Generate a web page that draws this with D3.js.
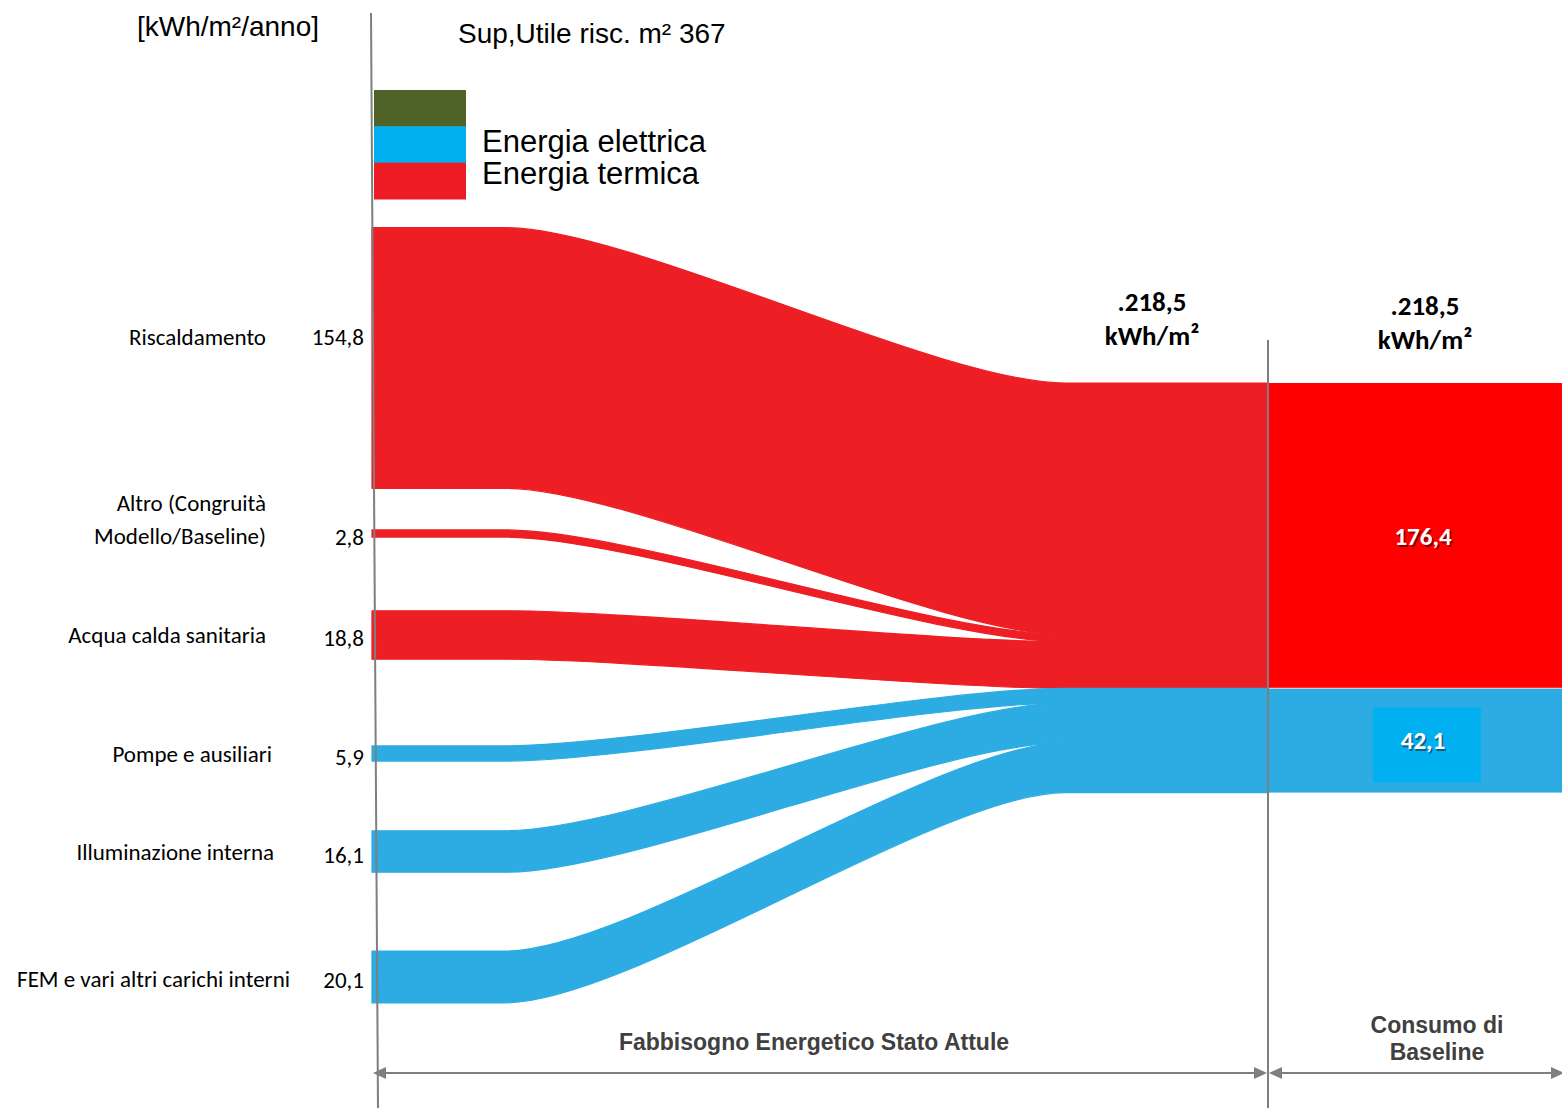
<!DOCTYPE html>
<html><head><meta charset="utf-8">
<script src="https://cdn.jsdelivr.net/npm/d3@7"></script>
<style>body{margin:0;background:#fff} svg{display:block}</style>
</head><body>
<svg id="c" width="1562" height="1108"></svg>
<script>
// ---------------- data ----------------
const categories = ["Riscaldamento", "Altro (Congruità Modello/Baseline)", "Acqua calda sanitaria",
                    "Pompe e ausiliari", "Illuminazione interna", "FEM e vari altri carichi interni"];
const labelLines = [["Riscaldamento"], ["Altro (Congruità", "Modello/Baseline)"], ["Acqua calda sanitaria"],
                    ["Pompe e ausiliari"], ["Illuminazione interna"], ["FEM e vari altri carichi interni"]];
const values = [154.8, 2.8, 18.8, 5.9, 16.1, 20.1];
const energyType = ["termica", "termica", "termica", "elettrica", "elettrica", "elettrica"];
const groups = ["termica", "elettrica"];
const legendKeys = ["altro", "elettrica", "termica"];
const legendLabels = ["", "Energia elettrica", "Energia termica"];
const unitLabel = "[kWh/m²/anno]";
const surfaceLabel = "Sup,Utile risc. m²";
const surface = 367;
const totalUnit = "kWh/m²";
const sectionLabels = [["Fabbisogno Energetico Stato Attule"], ["Consumo di", "Baseline"]];

// ---------------- setup ----------------
const W = 1562, H = 1108;
const svg = d3.select("#c");
const loc = d3.formatLocale({decimal: ",", thousands: ".", grouping: [3], currency: ["", "€"]});
const fmt = loc.format(".1f");

const flowColor = {termica: "#ED1F24", elettrica: "#2CACE2"};
const rectColor = {termica: "#FF0000", elettrica: "#2CACE2"};
const legendColor = {altro: "#4F6228", elettrica: "#00B0F0", termica: "#ED1C24"};
const gray = "#7F7F7F";
const labelFont = "Carlito, Calibri, Lato, sans-serif";
const arial = "Arial, 'Liberation Sans', sans-serif";

// x layout
const xStart = 372, xCurveA = 505, xCurveB = 1065, xRight = 1268;
const kCtrl = 125;

// scales
const thickL = d3.scaleLinear().domain([0, 20, 155]).range([0, 51.6, 261]);
const thickR = d3.scaleLinear().domain([0, 20, 155]).range([0, 49.6, 252]);
const rowY = d3.scaleLinear().domain(d3.range(6)).range([358, 533.5, 635, 753.5, 851.5, 977]);
const rightTop = 383;

// nodes
let cum = rightTop;
const flows = values.map((v, i) => {
  const tl = thickL(v), tr = thickR(v);
  const yT0 = rowY(i) - tl / 2, yB0 = yT0 + tl;
  const yT1 = cum, yB1 = cum + tr;
  cum += tr;
  return {i, v, type: energyType[i], yT0, yB0, yT1, yB1, name: categories[i]};
});
const groupExtent = groups.map(g => {
  const f = flows.filter(d => d.type === g);
  return {g, y0: d3.min(f, d => d.yT1), y1: d3.max(f, d => d.yB1), total: d3.sum(f, d => d.v)};
});
const total = d3.sum(values);

function bandPath(d) {
  const p = d3.path();
  p.moveTo(xStart, d.yT0);
  p.lineTo(xCurveA, d.yT0);
  p.bezierCurveTo(xCurveA + kCtrl, d.yT0, xCurveB - kCtrl, d.yT1, xCurveB, d.yT1);
  p.lineTo(xRight, d.yT1);
  p.lineTo(xRight, d.yB1);
  p.lineTo(xCurveB, d.yB1);
  p.bezierCurveTo(xCurveB - kCtrl, d.yB1, xCurveA + kCtrl, d.yB0, xCurveA, d.yB0);
  p.lineTo(xStart, d.yB0);
  p.closePath();
  return p.toString();
}

// flows
svg.append("g").selectAll("path").data(flows).join("path")
  .attr("d", bandPath).attr("fill", d => flowColor[d.type])
  .attr("stroke", d => flowColor[d.type]).attr("stroke-width", 1.2).attr("stroke-linejoin", "round");

// right rectangles
svg.append("g").selectAll("rect").data(groupExtent).join("rect")
  .attr("x", xRight + 1).attr("y", d => d.y0).attr("width", W - xRight).attr("height", d => d.y1 - d.y0)
  .attr("fill", d => rectColor[d.g]);
svg.append("line").attr("x1", xRight + 1).attr("x2", W).attr("y1", groupExtent[0].y1).attr("y2", groupExtent[0].y1)
  .attr("stroke", "#d8d8d8").attr("stroke-width", 1);

// value labels in right rects
const cxRight = (xRight + W) / 2 + 8;
const gEl = groupExtent[1];
const elCy = (gEl.y0 + gEl.y1) / 2;
svg.append("rect").attr("x", cxRight - 50).attr("y", elCy - 33).attr("width", 108).attr("height", 75)
  .attr("fill", "#00B0F0");
const shadowCol = {termica: "#8B0000", elettrica: "#12607F"};
groupExtent.forEach(d => {
  const cy = (d.y0 + d.y1) / 2 + 9;
  svg.append("text").attr("x", cxRight + 1.5).attr("y", cy + 2).attr("text-anchor", "middle")
    .attr("font-family", labelFont).attr("font-weight", "bold").attr("font-size", 25)
    .attr("fill", shadowCol[d.g]).text(fmt(d.total));
  svg.append("text").attr("x", cxRight).attr("y", cy).attr("text-anchor", "middle")
    .attr("font-family", labelFont).attr("font-weight", "bold").attr("font-size", 25)
    .attr("fill", "#fff").text(fmt(d.total));
});

// totals above
[{x: 1152, y: 311}, {x: 1425, y: 315}].forEach(p => {
  svg.append("text").attr("x", p.x).attr("y", p.y).attr("text-anchor", "middle")
    .attr("font-family", labelFont).attr("font-weight", "bold").attr("font-size", 27).attr("fill", "#000")
    .text("." + fmt(total));
  svg.append("text").attr("x", p.x).attr("y", p.y + 34).attr("text-anchor", "middle")
    .attr("font-family", labelFont).attr("font-weight", "bold").attr("font-size", 27).attr("fill", "#000")
    .text(totalUnit);
});

// vertical lines
svg.append("line").attr("x1", 371).attr("y1", 13).attr("x2", 378).attr("y2", H)
  .attr("stroke", gray).attr("stroke-width", 2);
svg.append("line").attr("x1", xRight).attr("y1", 340).attr("x2", xRight).attr("y2", H)
  .attr("stroke", gray).attr("stroke-width", 2);

// arrows
const arrowY = 1073;
function arrow(xa, xb) {
  svg.append("line").attr("x1", xa + 6).attr("x2", xb - 6).attr("y1", arrowY).attr("y2", arrowY)
    .attr("stroke", gray).attr("stroke-width", 2);
  svg.append("path").attr("d", `M${xa},${arrowY} L${xa + 13},${arrowY - 6} L${xa + 13},${arrowY + 6} Z`).attr("fill", gray);
  svg.append("path").attr("d", `M${xb},${arrowY} L${xb - 13},${arrowY - 6} L${xb - 13},${arrowY + 6} Z`).attr("fill", gray);
}
arrow(373, xRight - 1);
arrow(xRight + 1, W + 2);

// section labels
svg.append("text").attr("x", 814).attr("y", 1050).attr("text-anchor", "middle")
  .attr("font-family", arial).attr("font-weight", "bold").attr("font-size", 23).attr("fill", "#404040")
  .text(sectionLabels[0][0]);
sectionLabels[1].forEach((t, j) => {
  svg.append("text").attr("x", 1437).attr("y", 1033 + j * 27).attr("text-anchor", "middle")
    .attr("font-family", arial).attr("font-weight", "bold").attr("font-size", 23).attr("fill", "#404040")
    .text(t);
});

// left labels
const labelRight = [266, 266, 266, 272, 274, 290];
const labelDy = [-21, -30.5, 0, 0, 0, 2];
const valueRight = 364;
flows.forEach((d, i) => {
  const cy = rowY(i) + labelDy[i];
  const lines = labelLines[i];
  lines.forEach((t, j) => {
    svg.append("text").attr("x", labelRight[i]).attr("y", cy + 8 + j * 33).attr("text-anchor", "end")
      .attr("font-family", labelFont).attr("font-size", 23).attr("fill", "#000").text(t);
  });
  svg.append("text").attr("x", valueRight).attr("y", rowY(i) + (i === 0 ? -21 : 3) + 8).attr("text-anchor", "end")
    .attr("font-family", labelFont).attr("font-size", 23).attr("fill", "#000").text(fmt(d.v));
});

// header
svg.append("text").attr("x", 228).attr("y", 36).attr("text-anchor", "middle")
  .attr("font-family", arial).attr("font-size", 28).attr("fill", "#000").text(unitLabel);
svg.append("text").attr("x", 458).attr("y", 43)
  .attr("font-family", arial).attr("font-size", 28).attr("fill", "#000").text(surfaceLabel + " " + surface);

// legend
const legY = d3.scaleBand().domain(legendKeys).range([90, 199]);
svg.append("g").selectAll("rect").data(legendKeys).join("rect")
  .attr("x", 374).attr("y", d => legY(d)).attr("width", 92).attr("height", legY.bandwidth() + 0.5)
  .attr("fill", d => legendColor[d]);
legendLabels.forEach((t, i) => {
  if (!t) return;
  svg.append("text").attr("x", 482).attr("y", 152 + (i - 1) * 32)
    .attr("font-family", arial).attr("font-size", 31).attr("fill", "#000").text(t);
});
</script>
</body></html>
